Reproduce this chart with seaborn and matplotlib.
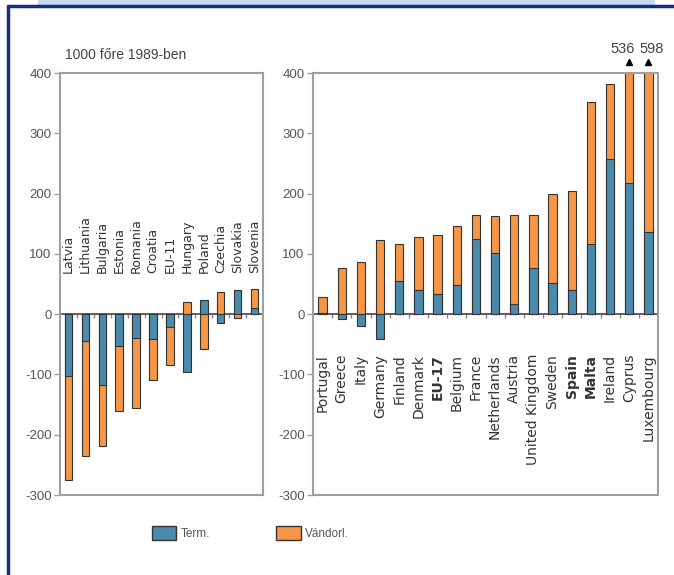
import matplotlib
matplotlib.use("Agg")
import matplotlib.pyplot as plt
import seaborn as sns
import pandas as pd
import numpy as np
from matplotlib.patches import Rectangle, Patch
from matplotlib.lines import Line2D

# ---------------- data ----------------
left_countries = ["Latvia", "Lithuania", "Bulgaria", "Estonia", "Romania", "Croatia",
                  "EU-11", "Hungary", "Poland", "Czechia", "Slovakia", "Slovenia"]
left_term = [-103, -44, -118, -53, -40, -42, -22, -96, 24, -14, 40, 10]
left_migr = [-172, -192, -100, -107, -116, -68, -63, 20, -57, 36, -7, 32]

right_countries = ["Portugal", "Greece", "Italy", "Germany", "Finland", "Denmark", "EU-17",
                   "Belgium", "France", "Netherlands", "Austria", "United Kingdom", "Sweden",
                   "Spain", "Malta", "Ireland", "Cyprus", "Luxembourg"]
right_term = [2, -8, -19, -41, 55, 40, 33, 48, 125, 102, 17, 77, 51, 40, 117, 258, 218, 136]
right_migr = [26, 76, 87, 123, 61, 88, 99, 99, 40, 61, 148, 88, 149, 165, 235, 124, 318, 462]

bold_labels = ["EU-17", "Spain", "Malta"]
y_ticks = [-300, -200, -100, 0, 100, 200, 300, 400]
title_text = "1000 főre 1989-ben"
legend_labels = ["Term.", "Vándorl."]

BLUE = "#4a8bab"
ORANGE = "#f79646"
EDGE = "#333333"
FRAME = "#a0a0a0"
TXT = "#555555"

sns.set_theme(style="white")
plt.rcParams['font.family'] = ['Liberation Sans', 'DejaVu Sans']
plt.rcParams['axes.unicode_minus'] = False

W, H = 674, 575
fig = plt.figure(figsize=(W / 100, H / 100), dpi=100)
fig.patch.set_facecolor("white")


def ax_rect(x0, y0, x1, y1):
    return [x0 / W, 1 - y1 / H, (x1 - x0) / W, (y1 - y0) / H]


axL = fig.add_axes(ax_rect(60, 73, 263, 495))
axR = fig.add_axes(ax_rect(313, 73, 658, 495))

YMIN, YMAX = -300, 400


def draw(ax, countries, term, migr, label_y, label_va, label_size):
    term = np.array(term, float)
    migr = np.array(migr, float)
    same = np.sign(term) == np.sign(migr)
    outer = np.where(same, term + migr, migr)
    df = pd.DataFrame({"country": countries, "term": term, "migr": migr, "outer": outer})
    n = len(countries)
    sns.barplot(data=df, x="country", y="outer", order=countries, color=ORANGE,
                saturation=1, width=0.44, edgecolor=EDGE, linewidth=0.8,
                errorbar=None, ax=ax)
    sns.barplot(data=df, x="country", y="term", order=countries, color=BLUE,
                saturation=1, width=0.44, edgecolor=EDGE, linewidth=0.8,
                errorbar=None, ax=ax)
    ax.set_ylim(YMIN, YMAX)
    ax.set_xlim(-0.5, n - 0.5)
    ax.set_xticks([])
    ax.set_xlabel("")
    ax.set_ylabel("")
    ax.set_yticks(y_ticks)
    ax.tick_params(axis="y", left=True, direction="out", length=4, width=1,
                   color=FRAME, labelsize=9.5, labelcolor=TXT, pad=2)
    for s in ax.spines.values():
        s.set_color(FRAME)
        s.set_linewidth(1.5)
        s.set_visible(True)
    # zero line with small ticks between categories
    sec = ax.secondary_xaxis((0 - YMIN) / (YMAX - YMIN))
    sec.set_xticks(np.arange(n - 1) + 0.5)
    sec.set_xticklabels([])
    sec.tick_params(axis="x", direction="out", length=3, width=1, color="#888888")
    sec.spines["bottom"].set_color("#444444")
    sec.spines["bottom"].set_linewidth(1.2)
    # category labels
    for i, c in enumerate(countries):
        ax.text(i, label_y, c, rotation=90, ha="center", va=label_va,
                fontsize=label_size, family=["DejaVu Sans"], color="#333333",
                fontweight="bold" if c in bold_labels else "normal")
    # overflow markers (bars cut at the frame, real totals written above)
    total = term + migr
    over = [i for i, t in enumerate(total) if t > YMAX]
    nudges = [-4.5, 2.0]
    for k, i in enumerate(over):
        ax.plot(i, 419, marker="^", color="black", ms=4, clip_on=False)
        ax.annotate(f"{int(total[i])}", xy=(i, 428), xytext=(nudges[min(k, 1)], 0),
                    textcoords="offset points", ha="center", va="bottom",
                    fontsize=10.5, color="#444444", annotation_clip=False)


draw(axL, left_countries, left_term, left_migr, 68, "bottom", 9)
draw(axR, right_countries, right_term, right_migr, -66, "top", 10)

fig.text(65 / W, 1 - 55 / H, title_text, ha="left", va="center", fontsize=10, color="#444444")

handles = [Patch(facecolor=BLUE, edgecolor=EDGE), Patch(facecolor=ORANGE, edgecolor=EDGE)]
fig.legend(handles, legend_labels, loc="center left", bbox_to_anchor=(141 / W, 1 - 533 / H),
           ncol=2, frameon=False, fontsize=8.5, handlelength=2.1, handleheight=1.4,
           columnspacing=5.6, handletextpad=0.35, labelcolor=TXT)

# decorative frame
fig.add_artist(Rectangle((38 / W, 1 - 5 / H), (655 - 38) / W, 5 / H,
                         transform=fig.transFigure, facecolor="#c9d8ec", edgecolor="none"))
fig.add_artist(Line2D([8 / W, 8 / W], [0, 1 - 6 / H], transform=fig.transFigure,
                      color="#12307f", lw=2.5))
fig.add_artist(Line2D([8 / W, 1], [1 - 6 / H, 1 - 6 / H], transform=fig.transFigure,
                      color="#12307f", lw=2.5))

fig.savefig("out.png", dpi=100)
